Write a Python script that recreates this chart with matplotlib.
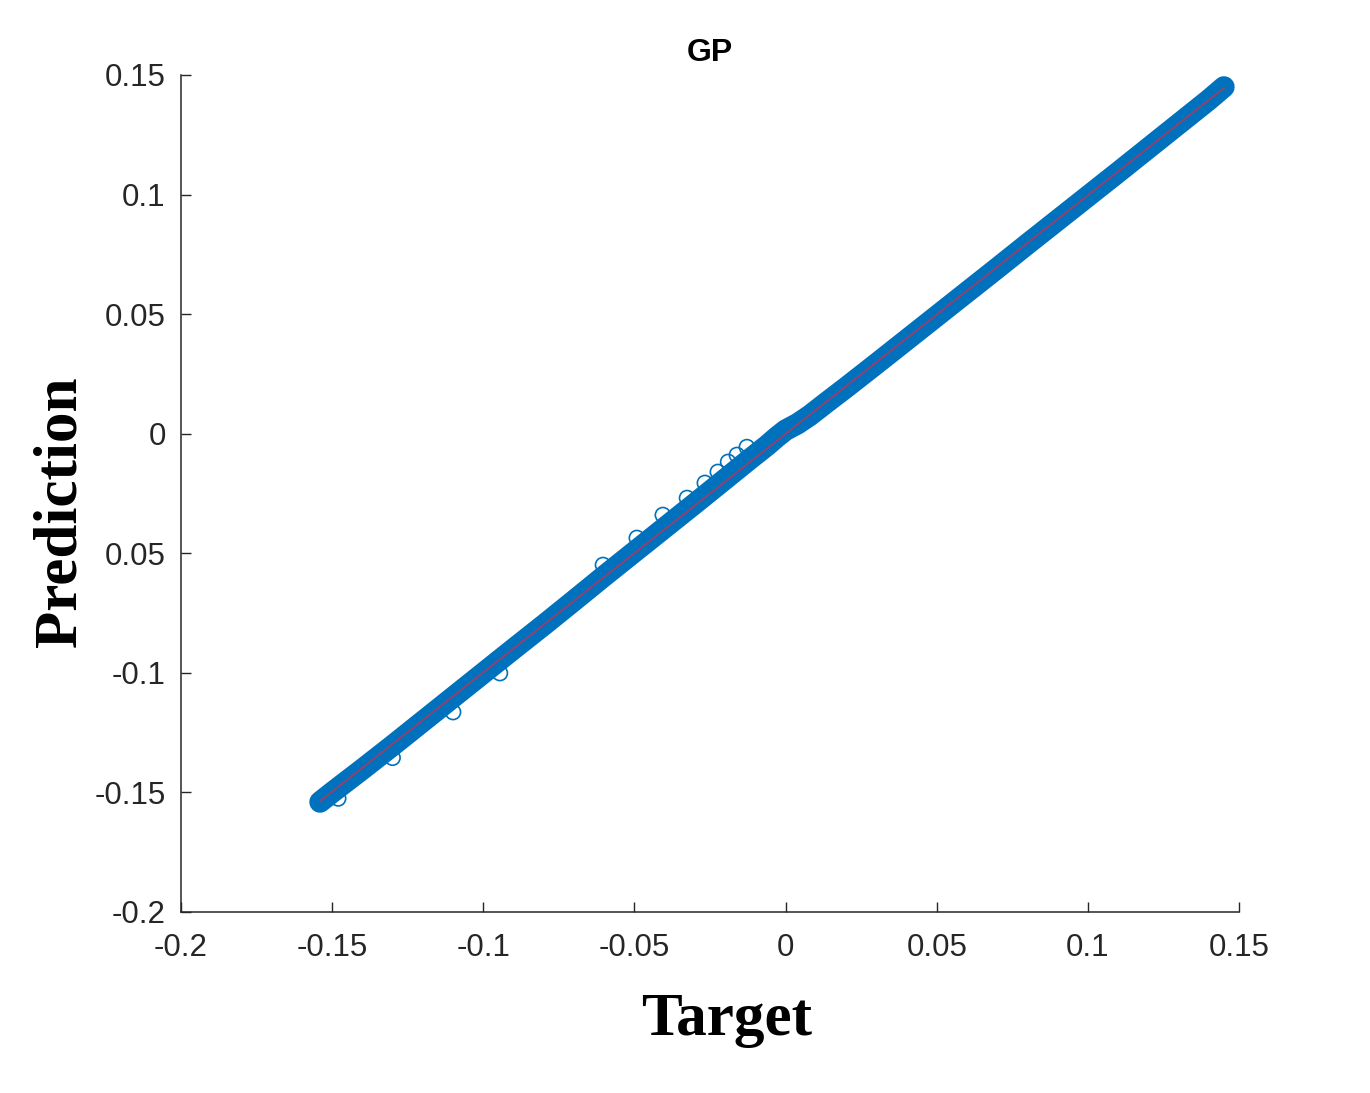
"""
GP regression - target vs prediction scatter
"""

import numpy as np
import matplotlib
matplotlib.use("Agg")
import matplotlib.pyplot as plt

# ── Data ───────────────────────────────────────────────────
# points along the dense band (the band is drawn as one thick stroke)
target = [-0.154, -0.150, -0.140, -0.130, -0.120, -0.110, -0.100, -0.090,
          -0.080, -0.070, -0.060, -0.050, -0.040, -0.030, -0.020, -0.012,
          -0.006, -0.003, 0.000, 0.004, 0.008, 0.014, 0.020, 0.030, 0.040,
          0.050, 0.060, 0.070, 0.080, 0.090, 0.100, 0.110, 0.120, 0.130,
          0.140, 0.145]
prediction = [-0.154, -0.150, -0.1403, -0.1304, -0.1203, -0.1102, -0.1001,
              -0.090, -0.080, -0.0698, -0.0595, -0.0494, -0.0393, -0.0292,
              -0.019, -0.0108, -0.0048, -0.0015, 0.0015, 0.0042, 0.0076,
              0.0135, 0.0193, 0.0292, 0.0392, 0.0492, 0.0592, 0.0692, 0.0793,
              0.0893, 0.0993, 0.1093, 0.1194, 0.1295, 0.1396, 0.145]

# stray circles sticking out of the band
out_target = [-0.0604, -0.0492, -0.0406, -0.0326, -0.0267, -0.0224, -0.0190,
              -0.0161, -0.0128, -0.0945, -0.1100, -0.1300, -0.1480]
out_prediction = [-0.0549, -0.0436, -0.0340, -0.0269, -0.0206, -0.0160,
                  -0.0118, -0.0089, -0.0056, -0.1001, -0.1164, -0.1355,
                  -0.1525]

xticks = [-0.2, -0.15, -0.1, -0.05, 0, 0.05, 0.1, 0.15]
xticklabels = ['-0.2', '-0.15', '-0.1', '-0.05', '0', '0.05', '0.1', '0.15']
yticks = [-0.2, -0.15, -0.1, -0.05, 0, 0.05, 0.1, 0.15]
yticklabels = ['-0.2', '-0.15', '-0.1', '0.05', '0', '0.05', '0.1', '0.15']

blue = '#0072BD'
grey = '#262626'

# ── Figure ─────────────────────────────────────────────────
fig = plt.figure(figsize=(13.7, 10.93), dpi=100)
ax = fig.add_axes([0.1321, 0.1656, 0.7723, 0.7658])

# dense cloud of overlapping circles -> thick round-capped stroke
ax.plot(target, prediction, color=blue, lw=15.5, solid_capstyle='round',
        solid_joinstyle='round', zorder=2)
ax.scatter(target, prediction, s=117, facecolors='none', edgecolors=blue,
           linewidths=1.2, zorder=2)
ax.scatter(out_target, out_prediction, s=117, facecolors='none',
           edgecolors=blue, linewidths=1.2, zorder=2)

# fit line
p = np.polyfit(target, prediction, 1)
xf = np.array([min(target), max(target)])
ax.plot(xf, np.polyval(p, xf), color='#9A3E6A', lw=1.3, zorder=3)

ax.set_xlim(-0.2, 0.15)
ax.set_ylim(-0.2, 0.15)
ax.set_xticks(xticks)
ax.set_xticklabels(xticklabels)
ax.set_yticks(yticks)
ax.set_yticklabels(yticklabels)

for s in ['top', 'right']:
    ax.spines[s].set_visible(False)
for s in ['left', 'bottom']:
    ax.spines[s].set_color(grey)
    ax.spines[s].set_linewidth(1.1)

ax.tick_params(direction='in', length=7, width=1.0, color=grey,
               labelcolor=grey, labelsize=22.5)
ax.tick_params(axis='x', pad=15)
ax.tick_params(axis='y', pad=11)
for lab in ax.get_xticklabels() + ax.get_yticklabels():
    lab.set_family('Liberation Sans')

ax.set_title('GP', fontsize=23, fontweight='bold', family='Liberation Sans',
             pad=10)

fig.text(0.5307, 0.0668, 'Target', ha='center', va='center', fontsize=44,
         fontweight='bold', family='Liberation Serif')
fig.text(0.0438, 0.5316, 'Prediction', ha='center', va='center', fontsize=44,
         fontweight='bold', family='Liberation Serif', rotation=90)

plt.savefig('out.png', dpi=100)
